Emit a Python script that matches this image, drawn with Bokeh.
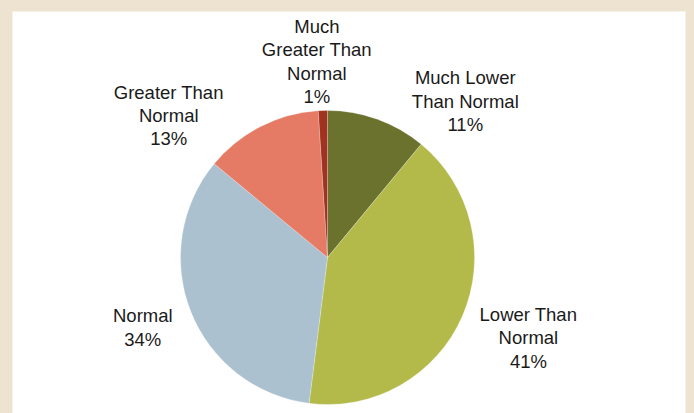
import math
from bokeh.plotting import figure
from bokeh.models import ColumnDataSource, Range1d, GlobalInlineStyleSheet
from bokeh.core.properties import value
from bokeh.embed import file_html
from bokeh.resources import INLINE

# ---- data ----
categories = ["Much Lower Than Normal", "Lower Than Normal", "Normal",
              "Greater Than Normal", "Much Greater Than Normal"]
label_names = ["Much Lower\nThan Normal", "Lower Than\nNormal", "Normal",
               "Greater Than\nNormal", "Much\nGreater Than\nNormal"]
percents = [11, 41, 34, 13, 1]
colors = ["#6B722E", "#B3BA4A", "#ABC1CF", "#E57A65", "#A03220"]

# ---- layout (pixels) ----
W, H = 694, 413
MB_L, MB_R, MB_T, MB_B = 12, 9, 11, 0
CX, CY, R = 327, -257, 147
# label offsets from the rim point at each slice's mid-angle (screen px)
label_dx = [88, 66, -48, -92, -6]
label_dy = [-18, 22, 16, -11, -49]
FRAME = "#EEE3D0"

total = float(sum(percents))
starts, ends, lx, ly, texts = [], [], [], [], []
cum = 0.0
for name, pct in zip(label_names, percents):
    a0 = cum / total
    a1 = (cum + pct) / total
    cum += pct
    starts.append(math.pi / 2 - 2 * math.pi * a1)
    ends.append(math.pi / 2 - 2 * math.pi * a0)
    mid = 2 * math.pi * (a0 + a1) / 2
    lx.append(CX + R * math.sin(mid))
    ly.append(CY + R * math.cos(mid))
    texts.append(f"{name}\n{pct}%")

src = ColumnDataSource(dict(cat=categories, start=starts, end=ends, color=colors))
lsrc = ColumnDataSource(dict(x=lx, y=ly, text=texts, dx=label_dx, dy=label_dy))

p = figure(width=W, height=H, output_backend="svg", toolbar_location=None,
           x_range=Range1d(MB_L, W - MB_R),
           y_range=Range1d(-(H - MB_B), -MB_T),
           x_axis_type=None, y_axis_type=None,
           min_border_left=MB_L, min_border_right=MB_R,
           min_border_top=MB_T, min_border_bottom=MB_B)
p.grid.visible = False
p.outline_line_color = None
p.background_fill_color = "white"
p.border_fill_color = FRAME
p.stylesheets.append(GlobalInlineStyleSheet(css=f"body {{ background: {FRAME}; }}"))

p.wedge(x=CX, y=CY, radius=R, start_angle="start", end_angle="end",
        fill_color="color", line_color="white", line_width=0.4,
        line_alpha=0.6, source=src)

p.text(x="x", y="y", text="text", x_offset="dx", y_offset="dy", source=lsrc,
       text_align="center", text_baseline="middle",
       text_font=value("Liberation Sans"), text_font_size="18.5px",
       text_line_height=1.11, text_color="#1A1A1A")

open("out.html", "w").write(file_html(p, INLINE))
